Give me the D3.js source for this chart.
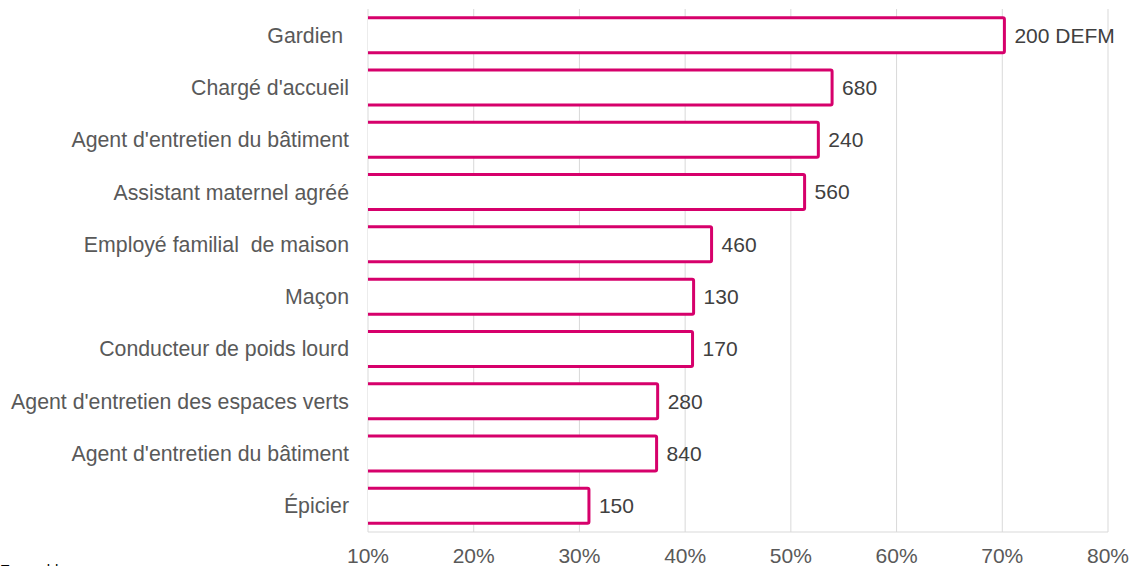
<!DOCTYPE html>
<html>
<head>
<meta charset="utf-8">
<script src="https://d3js.org/d3.v7.min.js"></script>
<style>
  body { margin: 0; background: #fff; }
  text { font-family: "Liberation Sans", Arial, sans-serif; }
</style>
</head>
<body>
<div id="chart"></div>
<script>
// data
var categories = ["Gardien ", "Chargé d'accueil", "Agent d'entretien du bâtiment", "Assistant maternel agréé",
  "Employé familial  de maison", "Maçon", "Conducteur de poids lourd", "Agent d'entretien des espaces verts",
  "Agent d'entretien du bâtiment", "Épicier"];
var shares = [70.2, 53.9, 52.6, 51.3, 42.5, 40.8, 40.7, 37.4, 37.3, 30.9];
var valueLabels = ["200 DEFM", "680", "240", "560", "460", "130", "170", "280", "840", "150"];
var xTicks = [10, 20, 30, 40, 50, 60, 70, 80];

var W = 1129, H = 566;
var margin = {top: 9, right: 21, bottom: 34, left: 368};
var width = W - margin.left - margin.right;
var height = H - margin.top - margin.bottom;

var svg = d3.select("#chart").append("svg")
  .attr("width", W).attr("height", H);

var g = svg.append("g")
  .attr("transform", "translate(" + margin.left + "," + margin.top + ")");

var x = d3.scaleLinear().domain([10, 80]).range([0, width]);
var y = d3.scaleBand().domain(d3.range(categories.length)).range([0, height]).paddingInner(0.33).paddingOuter(0.165);

// gridlines
g.selectAll(".grid").data(xTicks).enter().append("line")
  .attr("x1", d => x(d)).attr("x2", d => x(d))
  .attr("y1", 0).attr("y2", height)
  .style("stroke", "#d9d9d9").style("stroke-width", 1);

g.append("line")
  .attr("x1", 0).attr("x2", width).attr("y1", height).attr("y2", height)
  .style("stroke", "#d9d9d9").style("stroke-width", 1);

// tick labels
g.selectAll(".tick").data(xTicks).enter().append("text")
  .attr("x", d => x(d)).attr("y", height + 31)
  .attr("text-anchor", "middle")
  .style("font-size", "21px").style("fill", "#595959")
  .text(d => d + "%");

// clip so the bar's left stroke is cut at the axis
svg.append("clipPath").attr("id", "clip")
  .append("rect").attr("x", 0).attr("y", -5).attr("width", width + 10).attr("height", height + 10);

var bars = g.append("g").attr("clip-path", "url(#clip)");
bars.selectAll("rect").data(shares).enter().append("rect")
  .attr("x", x(10) - 1.5)
  .attr("y", (d, i) => y(i))
  .attr("width", d => x(d) - x(10) + 1.5)
  .attr("height", y.bandwidth())
  .attr("rx", 1.5)
  .style("fill", "#fff")
  .style("stroke", "#d6006b")
  .style("stroke-width", 3);

// value labels
g.selectAll(".val").data(shares).enter().append("text")
  .attr("x", d => x(d) + 10)
  .attr("y", (d, i) => y(i) + y.bandwidth() / 2)
  .attr("dy", "0.35em")
  .style("font-size", "21px").style("fill", "#404040")
  .text((d, i) => valueLabels[i]);

// category labels
g.selectAll(".cat").data(categories).enter().append("text")
  .attr("x", -19)
  .attr("y", (d, i) => y(i) + y.bandwidth() / 2)
  .attr("dy", "0.35em")
  .attr("text-anchor", "end")
  .style("font-size", "21.3px").style("fill", "#595959")
  .style("white-space", "pre")
  .attr("xml:space", "preserve")
  .text(d => d);

// source note cut off at the bottom edge, as in the original
svg.append("text")
  .attr("x", 0).attr("y", H + 9)
  .style("font-size", "15px").style("fill", "#000")
  .text("Ensemble");
</script>
</body>
</html>
